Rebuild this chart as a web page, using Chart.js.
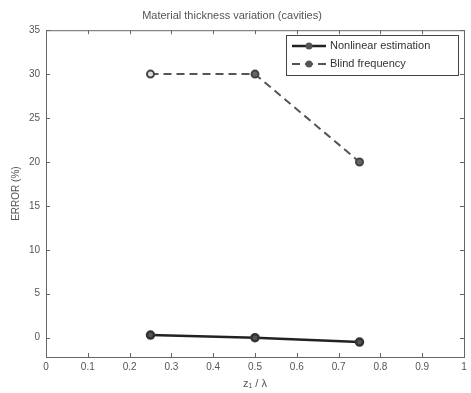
<!DOCTYPE html>
<html>
<head>
<meta charset="utf-8">
<script src="https://cdn.jsdelivr.net/npm/chart.js@4"></script>
<style>
  html, body { margin: 0; padding: 0; background: #fff; }
  #wrap { width: 471px; height: 393px; }
</style>
</head>
<body>
<div id="wrap"><canvas id="c" width="471" height="393"></canvas></div>
<script>
// data
const xPos = [0.25, 0.5, 0.75];
const nonlinear = [0.3, 0.0, -0.5];
const blindFreq = [30, 30, 20];
const seriesNames = ["Nonlinear estimation", "Blind frequency"];
const xTicks = [0, 0.1, 0.2, 0.3, 0.4, 0.5, 0.6, 0.7, 0.8, 0.9, 1];
const yTicks = [0, 5, 10, 15, 20, 25, 30, 35];

const pts = (xs, ys) => xs.map((x, i) => ({ x, y: ys[i] }));
const FONT = "'Liberation Sans', Arial, sans-serif";
const GREY = "#555";

// matlab style box + inward ticks + legend in the corner
const boxPlugin = {
  id: "box",
  afterDraw(chart) {
    const { ctx, chartArea: a, scales } = chart;
    ctx.save();
    ctx.strokeStyle = "#666";
    ctx.lineWidth = 1;
    ctx.strokeRect(a.left + 0.5, a.top + 0.5, a.right - a.left, a.bottom - a.top);
    ctx.beginPath();
    xTicks.forEach(t => {
      const x = Math.round(scales.x.getPixelForValue(t)) + 0.5;
      ctx.moveTo(x, a.bottom); ctx.lineTo(x, a.bottom - 4);
      ctx.moveTo(x, a.top); ctx.lineTo(x, a.top + 4);
    });
    yTicks.forEach(t => {
      const y = Math.round(scales.y.getPixelForValue(t)) + 0.5;
      ctx.moveTo(a.left, y); ctx.lineTo(a.left + 4, y);
      ctx.moveTo(a.right, y); ctx.lineTo(a.right - 4, y);
    });
    ctx.stroke();

    // legend
    const lx = 286, ly = 35, lw = 172, lh = 40;
    ctx.fillStyle = "#fff";
    ctx.fillRect(lx, ly, lw, lh);
    ctx.strokeStyle = "#444";
    ctx.strokeRect(lx + 0.5, ly + 0.5, lw, lh);
    chart.data.datasets.forEach((ds, i) => {
      const y = ly + 11 + i * 18;
      ctx.strokeStyle = ds.borderColor;
      ctx.lineWidth = ds.borderWidth;
      ctx.setLineDash(ds.borderDash || []);
      ctx.beginPath();
      ctx.moveTo(lx + 6, y); ctx.lineTo(lx + 40, y);
      ctx.stroke();
      ctx.setLineDash([]);
      ctx.fillStyle = "#555";
      ctx.beginPath();
      ctx.arc(lx + 23, y, 3.5, 0, Math.PI * 2);
      ctx.fill();
      ctx.fillStyle = "#333";
      ctx.font = "11px " + FONT;
      ctx.textBaseline = "middle";
      ctx.fillText(ds.label, lx + 44, y);
    });
    ctx.restore();
  }
};

new Chart(document.getElementById("c"), {
  type: "line",
  data: {
    datasets: [
      {
        label: seriesNames[0],
        data: pts(xPos, nonlinear),
        borderColor: "#222",
        borderWidth: 2.5,
        pointRadius: 3.5,
        borderWidth: 2.5,
        pointBackgroundColor: "#555",
        pointBorderColor: "#333",
        tension: 0
      },
      {
        label: seriesNames[1],
        data: pts(xPos, blindFreq),
        borderColor: "#555",
        borderWidth: 2,
        borderDash: [8, 5],
        pointRadius: 3.5,
        pointBackgroundColor: ["#ddd", "#666", "#666"],
        pointBorderColor: "#444",
        tension: 0
      }
    ]
  },
  options: {
    responsive: false,
    animation: false,
    layout: { padding: { top: 0, right: 7, left: 0, bottom: 0 } },
    plugins: {
      legend: { display: false },
      tooltip: { enabled: false },
      title: {
        display: true,
        text: "Material thickness variation (cavities)",
        color: GREY,
        font: { family: FONT, size: 11, weight: "normal" },
        padding: { top: 9, bottom: 8 }
      }
    },
    scales: {
      x: {
        type: "linear",
        min: 0, max: 1,
        afterBuildTicks: s => { s.ticks = xTicks.map(v => ({ value: v })); },
        afterFit: s => { s.height = 36; },
        grid: { display: false, drawTicks: false },
        border: { display: false },
        ticks: { color: GREY, font: { family: FONT, size: 10 }, padding: 4, maxRotation: 0,
                 callback: v => String(v) },
        title: { display: true, text: "z\u2081 / \u03bb", color: GREY,
                 font: { family: FONT, size: 11 }, padding: { top: 0, bottom: 2 } }
      },
      y: {
        type: "linear",
        min: -2.2, max: 35,
        afterBuildTicks: s => { s.ticks = yTicks.map(v => ({ value: v })); },
        afterFit: s => { s.width = 46; },
        grid: { display: false, drawTicks: false },
        border: { display: false },
        ticks: { color: GREY, font: { family: FONT, size: 10 }, padding: 6 },
        title: { display: true, text: "ERROR (%)", color: GREY,
                 font: { family: FONT, size: 10 }, padding: { top: 10, bottom: 0 } }
      }
    }
  },
  plugins: [boxPlugin]
});
</script>
</body>
</html>
